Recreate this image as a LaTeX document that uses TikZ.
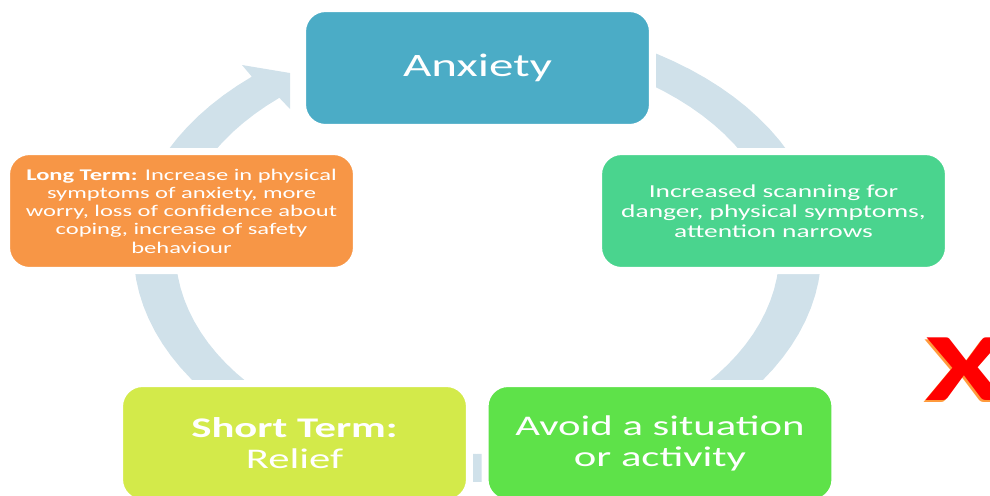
\documentclass[tikz,border=0pt]{standalone}
\usepackage{fontspec}
\setmainfont{Carlito}[FakeStretch=1.5]
\definecolor{anxietyblue}{HTML}{4BACC6}
\definecolor{scangreen}{HTML}{4AD48E}
\definecolor{avoidgreen}{HTML}{5EE249}
\definecolor{reliefyellow}{HTML}{D3EA4A}
\definecolor{longorange}{HTML}{F79646}
\definecolor{cyclegrey}{HTML}{D0E1EA}
\definecolor{glow}{HTML}{FF9A3C}

\begin{document}
\begin{tikzpicture}[x=0.02cm,y=-0.02cm,
  stage/.style={rectangle,rounded corners=0.46cm,draw=white,line width=4pt,
    text=white,align=center,inner sep=0pt,minimum width=7cm,minimum height=2.38cm},
  big/.style={font=\fontsize{16.2}{17.6}\selectfont},
  small/.style={font=\fontsize{10.4}{11.3}\selectfont},
  tiny/.style={font=\fontsize{9.3}{10.4}\selectfont},
  cross/.style={font=\bfseries\fontsize{55}{60}\selectfont,inner sep=0pt}]

\useasboundingbox (0,0) rectangle (990,495);
\clip (0,0) rectangle (990,495);

\fill[cyclegrey] plot[domain=-65:229,samples=90] ({477.5+344*cos(\x)},{251+231*sin(\x)})
  -- (242,65) -- (290,73) -- (290,109)
  -- plot[domain=229:-65,samples=90] ({477.5+302*cos(\x)},{251+203*sin(\x)}) -- cycle;

\node[stage,fill=anxietyblue,font=\fontsize{18.6}{22}\selectfont](anxiety) at (477.5,68){Anxiety};
\node[stage,fill=scangreen,small](scanning) at (773.5,211)
  {Increased scanning for\\danger, physical symptoms,\\attention narrows};
\node[stage,fill=avoidgreen,big](avoid) at (660,443){Avoid a situation\\or activity};
\node[stage,fill=reliefyellow,big](shortterm) at (294.5,443){\textbf{Short Term:}\\Relief};
\node[stage,fill=longorange,tiny](longterm) at (181.5,211)
  {\textbf{Long Term:} Increase in physical\\symptoms of anxiety, more\\worry, loss of confidence about\\coping, increase of safety\\behaviour};

\node[cross,text=glow](crossglow) at (963.5,371){X};
\node[cross,text=red](crossmark) at (965,369.5){X};

\end{tikzpicture}
\end{document}
